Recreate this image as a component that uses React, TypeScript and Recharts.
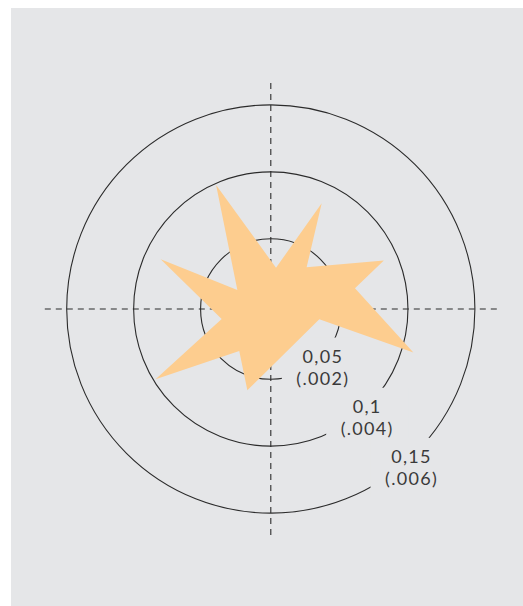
import React from 'react';
import { RadarChart, Radar, PolarGrid, PolarAngleAxis, PolarRadiusAxis } from 'recharts';

// Star vertices: compass bearing (degrees, clockwise from north) and value
const bearings = [336.2, 7.2, 25.7, 40.7, 66.8, 76.2, 107.0, 102.0, 196.1, 216.9, 238.6, 258.5, 294.3, 299.6];
const values = [0.0988, 0.0286, 0.0852, 0.0386, 0.0894, 0.0623, 0.1089, 0.0346, 0.0607, 0.0368, 0.0984, 0.035, 0.0878, 0.0263];

const radiusTicks = [0.05, 0.1, 0.15];
const tickLabelsMain = ['0,05', '0,1', '0,15'];
const tickLabelsSub = ['(.002)', '(.004)', '(.006)'];
const crossAngles = [0, 90, 180, 270];
const radiusDomain = [-0.00244, 0.1671];

const data = bearings.map((b, i) => ({ bearing: b, value: values[i] }));

const BG = '#e5e6e8';
const LINE = '#2b2b2b';
const FILL = '#fdcd8f';
const TEXT = '#3a3a3a';

const W = 512;
const H = 598;
const CX = 259.8;
const CY = 301;
const OUTER = 227;

const RadiusTick = (props: any) => {
  const { x, y, payload } = props;
  const i = radiusTicks.indexOf(payload.value);
  if (i < 0) return <g />;
  const lx = x + 5.5;
  const textStyle = {
    fontFamily: 'Lato, "Open Sans", sans-serif',
    fontSize: 18,
    letterSpacing: 1.3,
    fill: TEXT,
  } as const;
  return (
    <g>
      <rect x={lx - 41} y={y - 24} width={82} height={60} fill={BG} />
      <text x={lx} y={y + 1} textAnchor="middle" {...textStyle}>
        {tickLabelsMain[i]}
      </text>
      <text x={lx} y={y + 23.5} textAnchor="middle" {...textStyle}>
        {tickLabelsSub[i]}
      </text>
    </g>
  );
};

const chartProps = {
  width: W,
  height: H,
  data,
  cx: CX,
  cy: CY,
  innerRadius: 0,
  outerRadius: OUTER,
  startAngle: 90,
  endAngle: -270,
  margin: { top: 0, right: 0, bottom: 0, left: 0 },
};

export default function App() {
  return (
    <div
      style={{
        position: 'absolute',
        left: 11,
        top: 8,
        width: W,
        height: H,
        background: BG,
      }}
    >
      <div style={{ position: 'absolute', left: 0, top: 0 }}>
        <RadarChart {...chartProps}>
          <PolarGrid gridType="circle" radialLines={false} stroke={LINE} strokeWidth={1.1} strokeOpacity={1} />
          <PolarGrid
            gridType="circle"
            polarRadius={[]}
            radialLines={true}
            stroke={LINE}
            strokeWidth={1.1}
            strokeDasharray="6 5"
            strokeOpacity={1}
          />
          <PolarAngleAxis
            dataKey="bearing"
            type="number"
            domain={[0, 360]}
            ticks={crossAngles}
            tick={false}
            axisLine={false}
            tickLine={false}
          />
          <PolarRadiusAxis
            type="number"
            domain={radiusDomain}
            allowDataOverflow
            ticks={radiusTicks}
            angle={-48.5}
            axisLine={false}
            tick={RadiusTick}
          />
        </RadarChart>
      </div>
      <div style={{ position: 'absolute', left: 0, top: 0 }}>
        <RadarChart {...chartProps}>
          <PolarAngleAxis
            dataKey="bearing"
            type="number"
            domain={[0, 360]}
            ticks={crossAngles}
            tick={false}
            axisLine={false}
            tickLine={false}
          />
          <PolarRadiusAxis
            type="number"
            domain={radiusDomain}
            allowDataOverflow
            ticks={radiusTicks}
            angle={-48.5}
            axisLine={false}
            tick={false}
          />
          <Radar dataKey="value" fill={FILL} fillOpacity={1} stroke="none" isAnimationActive={false} />
        </RadarChart>
      </div>
    </div>
  );
}
